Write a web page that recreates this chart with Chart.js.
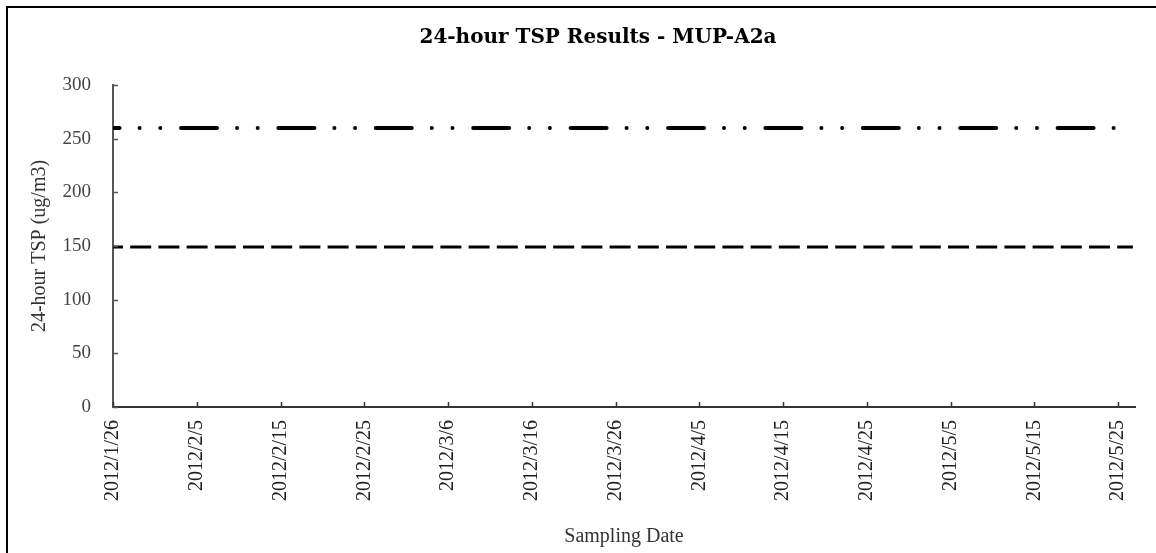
<!DOCTYPE html>
<html>
<head>
<meta charset="utf-8">
<script src="https://cdn.jsdelivr.net/npm/chart.js@4.4.1/dist/chart.umd.min.js"></script>
<style>
    html, body { margin: 0; padding: 0; background: #fff; overflow: hidden; }
    #frame {
        position: absolute;
        left: 6px;
        top: 6px;
        width: 1180px;
        height: 560px;
        border: 2px solid #000;
    }
</style>
</head>
<body>
<div id="frame">
    <canvas id="tspChart" width="1180" height="560"></canvas>
</div>
<script>
// Sampling date axis: days counted from 2012/1/26
const tickDays = [0, 10, 20, 30, 40, 50, 60, 70, 80, 90, 100, 110, 120];
const tickLabels = [
    '2012/1/26', '2012/2/5', '2012/2/15', '2012/2/25', '2012/3/6', '2012/3/16',
    '2012/3/26', '2012/4/5', '2012/4/15', '2012/4/25', '2012/5/5', '2012/5/15', '2012/5/25'
];
const axisEndDay = 122;

// Level lines (ug/m3), start and end of the period
const lineDays = [0, 121.75];
const limitLevel = [260, 260];
const actionLevel = [149, 149];

const yTicks = [0, 50, 100, 150, 200, 250, 300];

function toPoints(days, values) {
    return days.map((d, i) => ({ x: d, y: values[i] }));
}

// Excel style tick marks pointing into the plot
const insideTicks = {
    id: 'insideTicks',
    afterDraw(chart) {
        const { ctx, scales: { x, y } } = chart;
        ctx.save();
        ctx.lineWidth = 1.5;
        ctx.strokeStyle = '#555';
        y.ticks.forEach(t => {
            const py = Math.round(y.getPixelForValue(t.value)) + 0.5;
            ctx.beginPath();
            ctx.moveTo(x.left, py);
            ctx.lineTo(x.left + 5, py);
            ctx.stroke();
        });
        ctx.strokeStyle = '#333';
        x.ticks.forEach(t => {
            const px = Math.round(x.getPixelForValue(t.value)) + 0.5;
            ctx.beginPath();
            ctx.moveTo(px, y.bottom);
            ctx.lineTo(px, y.bottom - 5);
            ctx.stroke();
        });
        ctx.restore();
    }
};

const ctx = document.getElementById('tspChart').getContext('2d');

new Chart(ctx, {
    type: 'line',
    data: {
        datasets: [
            {
                label: 'Action Level',
                data: toPoints(lineDays, actionLevel),
                borderColor: '#000',
                borderWidth: 3,
                borderDash: [21, 7.2],
                borderDashOffset: 11,
                borderCapStyle: 'butt',
                pointRadius: 0,
                fill: false
            },
            {
                label: 'Limit Level',
                data: toPoints(lineDays, limitLevel),
                borderColor: '#000',
                borderWidth: 4,
                borderDash: [36, 20, 0, 20.7, 0, 20.7],
                borderDashOffset: 29.4,
                borderCapStyle: 'round',
                pointRadius: 0,
                fill: false
            }
        ]
    },
    options: {
        responsive: false,
        animation: false,
        devicePixelRatio: 1,
        layout: {
            padding: 0
        },
        plugins: {
            legend: { display: false },
            tooltip: { enabled: false },
            title: {
                display: true,
                text: '24-hour TSP Results - MUP-A2a',
                color: '#000',
                font: { family: 'DejaVu Serif', size: 20, weight: 'bold', lineHeight: 1.2 },
                padding: { top: 18, bottom: 35 }
            }
        },
        scales: {
            x: {
                type: 'linear',
                min: 0,
                max: axisEndDay,
                grid: { display: false, drawTicks: false },
                border: { display: true, color: '#333', width: 2 },
                afterBuildTicks: scale => {
                    scale.ticks = tickDays.map(v => ({ value: v }));
                },
                afterFit: scale => { scale.height = 161; },
                ticks: {
                    autoSkip: false,
                    minRotation: 90,
                    maxRotation: 90,
                    padding: 13,
                    color: '#222',
                    font: { family: 'Liberation Serif', size: 20 },
                    callback: (value, index) => tickLabels[index]
                },
                title: {
                    display: true,
                    text: 'Sampling Date',
                    color: '#333',
                    font: { family: 'Liberation Serif', size: 20, lineHeight: 1.2 },
                    padding: { top: 0, bottom: 19 }
                }
            },
            y: {
                min: 0,
                max: 300,
                grid: { display: false, drawTicks: false },
                border: { display: true, color: '#555', width: 2 },
                afterBuildTicks: scale => {
                    scale.ticks = yTicks.map(v => ({ value: v }));
                },
                afterFit: scale => { scale.width = 105; },
                ticks: {
                    padding: 22,
                    color: '#444',
                    font: { family: 'Liberation Serif', size: 19 }
                },
                title: {
                    display: true,
                    text: '24-hour TSP (ug/m3)',
                    color: '#333',
                    font: { family: 'Liberation Serif', size: 20, lineHeight: 1.2 },
                    padding: { top: 20, bottom: 0 }
                }
            },
            // empty right margin so the chart title stays centred on the whole frame
            yRight: {
                position: 'right',
                display: true,
                grid: { display: false, drawTicks: false },
                border: { display: false },
                ticks: { display: false },
                afterFit: scale => { scale.width = 53; }
            }
        }
    },
    plugins: [insideTicks]
});
</script>
</body>
</html>
